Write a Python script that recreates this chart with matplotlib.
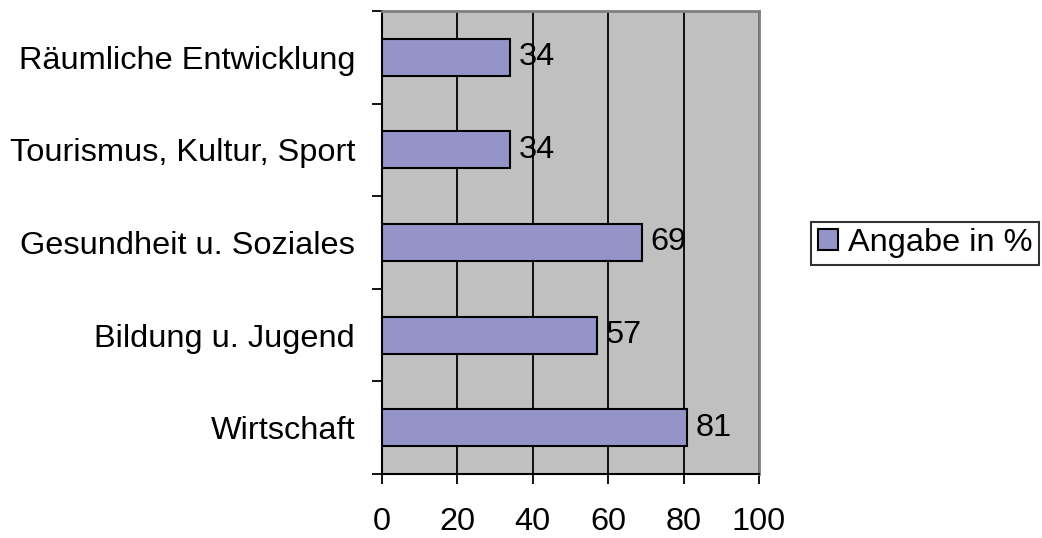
import matplotlib
matplotlib.use("Agg")
import matplotlib.pyplot as plt
from matplotlib.patches import Patch

categories = ["Wirtschaft", "Bildung u. Jugend", "Gesundheit u. Soziales",
              "Tourismus, Kultur, Sport", "Räumliche Entwicklung"]
values = [81, 57, 69, 34, 34]
xticks = [0, 20, 40, 60, 80, 100]
series_name = "Angabe in %"

plt.rcParams['font.family'] = ['Liberation Sans', 'DejaVu Sans']
FS = 23.4

W, H = 1042, 538
fig = plt.figure(figsize=(W / 100, H / 100), dpi=100)
ax = fig.add_axes([382 / W, 1 - 474 / H, (759 - 382) / W, (474 - 11) / H])
ax.set_facecolor('#C0C0C0')

ypos = list(range(len(categories)))
ax.barh(ypos, values, height=0.4, color='#9494C8', edgecolor='black',
        linewidth=1.5, zorder=3)
for y, v in zip(ypos, values):
    ax.text(v + 2.3, y, str(v), va='center', ha='left', fontsize=FS, zorder=4)

ax.set_xlim(0, 100)
ax.set_ylim(-0.5, len(categories) - 0.5)
ax.set_xticks(xticks)
ax.set_xticklabels([str(t) for t in xticks], fontsize=FS)
ax.set_yticks([y - 0.5 for y in range(len(categories) + 1)])
ax.set_yticklabels([])
ax.set_yticks(ypos, minor=True)
ax.set_yticklabels(categories, minor=True, fontsize=FS)
ax.tick_params(axis='y', which='minor', length=0, pad=19.4)
ax.tick_params(axis='y', which='major', length=7.5, width=1.3, direction='out')
ax.tick_params(axis='x', length=7.5, width=1.3, direction='out', pad=16)

ax.grid(axis='x', color='black', linewidth=1.3, zorder=1)
ax.set_axisbelow(True)
for s in ['left', 'bottom']:
    ax.spines[s].set_color('black')
    ax.spines[s].set_linewidth(1.5)
for s in ['top', 'right']:
    ax.spines[s].set_color('#808080')
    ax.spines[s].set_linewidth(2)

handle = Patch(facecolor='#9494C8', edgecolor='black', linewidth=1.5)
leg = fig.legend([handle], [series_name], loc='center left',
                 bbox_to_anchor=(811 / W, 1 - 243 / H), fontsize=FS,
                 frameon=True, fancybox=False, handlelength=0.63, handleheight=0.63,
                 handletextpad=0.3, borderpad=0.2, borderaxespad=0)
leg.get_frame().set_edgecolor('black')
leg.get_frame().set_linewidth(1.5)

fig.savefig('out.png', dpi=100)
